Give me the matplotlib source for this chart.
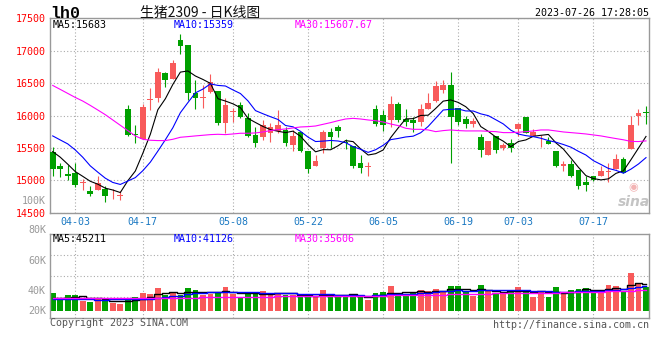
import numpy as np
import pandas as pd
import matplotlib
matplotlib.use('Agg')
import matplotlib.pyplot as plt

plt.rcParams['font.family'] = ['DejaVu Sans Mono', 'Noto Sans CJK SC']

# trading days shown, 03-29 .. 07-26
dates = ['03-29', '03-30', '03-31',
         '04-03', '04-04', '04-06', '04-07', '04-10', '04-11', '04-12', '04-13', '04-14',
         '04-17', '04-18', '04-19', '04-20', '04-21', '04-24', '04-25', '04-26', '04-27', '04-28',
         '05-04', '05-05', '05-08', '05-09', '05-10', '05-11', '05-12', '05-15', '05-16', '05-17',
         '05-18', '05-19', '05-22', '05-23', '05-24', '05-25', '05-26', '05-29', '05-30', '05-31',
         '06-01', '06-02', '06-05', '06-06', '06-07', '06-08', '06-09', '06-12', '06-13', '06-14',
         '06-15', '06-16', '06-19', '06-20', '06-21', '06-26', '06-27', '06-28', '06-29', '06-30',
         '07-03', '07-04', '07-05', '07-06', '07-07', '07-10', '07-11', '07-12', '07-13', '07-14',
         '07-17', '07-18', '07-19', '07-20', '07-21', '07-24', '07-25', '07-26']
tick_dates = ['04-03', '04-17', '05-08', '05-22', '06-05', '06-19', '07-03', '07-17']

open_ = [15444, 15223, 15095, 15110, 14960, 14828, 14843, 14864, 14782, 14765,
         16100, 15715, 15638, 16240, 16274, 16649, 16567, 17161, 17084, 16351,
         16265, 16367, 16377, 15890, 16050, 16161, 15956, 15700, 15674, 15726,
         15762, 15777, 15546, 15751, 15459, 15228, 15495, 15746, 15818, 15575,
         15531, 15274, 15200, 16100, 16008, 15931, 16177, 15941, 15931, 15905,
         16100, 16228, 16392, 16469, 16110, 15946, 15869, 15664, 15392, 15685,
         15495, 15572, 15792, 15972, 15685, 15615, 15613, 15459, 15213, 15254,
         15162, 14967, 15059, 15069, 15133, 15172, 15326, 15485, 15992, 16044]
high = [15510, 15260, 15238, 15264, 15018, 14915, 15069, 14915, 14864, 14828,
        16161, 15854, 16177, 16418, 16726, 16674, 16864, 17254, 17084, 16546,
        16469, 16638, 16377, 16264, 16110, 16213, 16033, 15828, 15931, 15880,
        16085, 15828, 15777, 15751, 15459, 15392, 15777, 15803, 15854, 15638,
        15531, 15392, 15290, 16161, 16085, 16300, 16213, 16100, 15972, 16177,
        16351, 16536, 16546, 16674, 16110, 15992, 15956, 15715, 15613, 15685,
        15582, 15633, 15890, 15972, 15792, 15700, 15674, 15459, 15305, 15315,
        15162, 15059, 15059, 15223, 15274, 15408, 15356, 15992, 16100, 16146]
low = [15074, 15050, 14997, 14895, 14843, 14751, 14843, 14659, 14710, 14690,
       15685, 15572, 15638, 16085, 16213, 16433, 16567, 16946, 16238, 16100,
       16110, 16341, 15854, 15736, 15905, 15956, 15664, 15510, 15623, 15597,
       15736, 15531, 15459, 15433, 15120, 15213, 15418, 15495, 15674, 15480,
       15187, 15120, 15059, 15838, 15767, 15828, 15905, 15838, 15741, 15838,
       16100, 16213, 16341, 15264, 15854, 15803, 15818, 15356, 15392, 15428,
       15469, 15444, 15685, 15726, 15685, 15520, 15562, 15203, 15151, 15044,
       14864, 14828, 14982, 15059, 14967, 15172, 15120, 15485, 15854, 15869]
close = [15172, 15180, 15059, 14930, 14965, 14792, 14956, 14751, 14787, 14770,
         15700, 15705, 16126, 16250, 16664, 16546, 16813, 17074, 16341, 16274,
         16280, 16510, 15890, 16161, 16060, 15982, 15685, 15572, 15854, 15818,
         15854, 15582, 15685, 15459, 15172, 15300, 15751, 15674, 15767, 15570,
         15223, 15187, 15205, 15869, 15854, 16177, 15931, 15905, 15890, 16100,
         16197, 16454, 16469, 15982, 15905, 15869, 15920, 15469, 15613, 15469,
         15546, 15495, 15869, 15736, 15751, 15620, 15562, 15223, 15254, 15059,
         14905, 14920, 14997, 15151, 15140, 15326, 15120, 15854, 16044, 16040]

# MA values at the left edge depend on earlier days
ma5_head = [15443, 15357, 15249, 15135]
ma10_head = [15685, 15623, 15562, 15469, 15356, 15223, 15126, 15033, 14967]
ma30 = [16464, 16403, 16341, 16279, 16223, 16156, 16085, 16013, 15931, 15849,
        15767, 15685, 15633, 15618, 15613, 15613, 15633, 15664, 15674, 15685,
        15695, 15705, 15710, 15705, 15715, 15726, 15726, 15731, 15746, 15767,
        15782, 15792, 15808, 15823, 15828, 15838, 15864, 15890, 15920, 15946,
        15956, 15946, 15931, 15920, 15900, 15869, 15844, 15803, 15787, 15787,
        15777, 15751, 15767, 15777, 15767, 15762, 15762, 15762, 15756, 15751,
        15736, 15736, 15741, 15751, 15762, 15777, 15777, 15762, 15746, 15736,
        15726, 15715, 15700, 15685, 15664, 15644, 15625, 15600, 15598, 15608]
ma_labels = ['15683', '15359', '15607.67']

volume = [30420, 20840, 26480, 26480, 16900, 15210, 20840, 19150, 13520, 11270,
          21410, 22530, 30420, 28170, 38310, 26480, 32110, 25910, 38310, 34930,
          26480, 28170, 32110, 40560, 28170, 22530, 30420, 28170, 33800, 28170,
          30420, 26480, 26480, 24790, 24790, 23660, 34930, 28170, 24790, 24790,
          24790, 24790, 18030, 30420, 32110, 42250, 28170, 26480, 32110, 34930,
          33800, 36620, 32110, 41690, 41690, 32110, 24790, 43380, 34930, 30420,
          28170, 33240, 40560, 34930, 23660, 33240, 23660, 40000, 29290, 34930,
          36620, 38310, 33240, 34930, 43380, 41690, 33240, 64220, 47320, 39430]
vol_ma5_head = [21900, 21900, 22000, 22500]
vol_ma10_head = [19100, 19100, 19100, 19100, 19100, 19100, 18600, 18600, 19100]
vol_ma30 = [20840] * 10 + [21410] * 5 + [21970] * 5 + [22530] * 4 + [23100] * 3 + \
           [23660] * 3 + [24220] * 6 + [24790] * 7 + [25350] * 2 + [25910] * 3 + \
           [26480] * 3 + [27040] * 2 + [27600] * 2 + [28170] * 2 + [28730] * 2 + \
           [29290] * 2 + [29860] * 2 + [30420] * 5 + [30980] * 2 + [31550] * 2 + \
           [32110] * 2 + [32670] * 2 + [33240, 33800, 34360, 35606]
vol_ma_labels = ['45211', '41126', '35606']
vol_axis_labels = ['100K', '80K', '60K', '40K', '20K']

price_ticks = list(range(14500, 17501, 500))


def with_head(values, n, head):
    s = pd.Series(values, dtype=float).rolling(n).mean().to_numpy()
    s[:n - 1] = head
    return s


def fx(px):
    return px / 660.0


def fy(py):
    return 1 - py / 360.0


ma5 = with_head(close, 5, ma5_head)
ma10 = with_head(close, 10, ma10_head)
vma5 = with_head(volume, 5, vol_ma5_head)
vma10 = with_head(volume, 10, vol_ma10_head)

RED = '#f85a5a'
GREEN = '#00a000'
GRID = '#aaaaaa'
SPINE = '#999999'
MA_COLORS = ['black', '#0000ff', '#ff00ff']

x = np.arange(len(dates))
o = np.array(open_, float)
c = np.array(close, float)
up = c >= o
colors = np.where(up, RED, GREEN)
tick_idx = [dates.index(d) for d in tick_dates]

fig = plt.figure(figsize=(6.6, 3.6), dpi=100)
ax = fig.add_axes([fx(50.3), fy(212.7), fx(599), 194.4 / 360])
axv = fig.add_axes([fx(50.3), fy(317.7), fx(599), 83.4 / 360])

# K线
ax.vlines(x, low, high, colors=colors, lw=0.8, zorder=2)
ax.bar(x, np.maximum(np.abs(c - o), 14), bottom=np.minimum(o, c), width=0.76,
       color=colors, lw=0, zorder=3)
ax.plot(x, ma5, color=MA_COLORS[0], lw=0.8, zorder=4)
ax.plot(x, ma10, color=MA_COLORS[1], lw=0.8, zorder=4)
ax.plot(x, ma30, color=MA_COLORS[2], lw=0.8, zorder=4)
ax.set_xlim(-0.32, 79.44)
ax.set_ylim(14500, 17500)
ax.set_yticks(price_ticks)
ax.set_yticklabels([str(t) for t in price_ticks], color='#ff0000', fontsize=7.2)
ax.set_xticks(tick_idx)
ax.set_xticklabels(tick_dates, color='#1a78c2', fontsize=7.2)
ax.tick_params(length=0, pad=3)

# объём
axv.bar(x, volume, width=0.76, color=colors, lw=0, zorder=2)
axv.plot(x, vma5, color=MA_COLORS[0], lw=1.0, drawstyle='steps-mid', zorder=3)
axv.plot(x, vma10, color=MA_COLORS[1], lw=1.0, drawstyle='steps-mid', zorder=3)
axv.plot(x, vol_ma30, color=MA_COLORS[2], lw=1.0, drawstyle='steps-mid', zorder=3)
vpp = 1690  # volume per pixel
vlo, vhi = -7 * vpp, 76.4 * vpp
axv.set_xlim(-0.32, 79.44)
axv.set_ylim(vlo, vhi)
axv.set_yticks([vlo + f * (vhi - vlo) for f in (0.25, 0.5, 0.75)])
axv.set_yticklabels([])
axv.set_xticks(tick_idx)
axv.set_xticklabels([])
axv.tick_params(length=0)

for a in (ax, axv):
    a.grid(True, color=GRID, lw=0.8, ls=(0, (1, 2)))
    a.set_axisbelow(True)
    for sp in a.spines.values():
        sp.set_color(SPINE)
        sp.set_linewidth(1.0)

# volume axis labels (Sina places them oddly)
for lab, py in zip(vol_axis_labels, [201, 230.5, 260.5, 290.5, 310.5]):
    fig.text(fx(46), fy(py), lab, ha='right', va='center', color='#999999', fontsize=7.2)

# MA legends
for lab, val, col, px in zip(['MA5', 'MA10', 'MA30'], ma_labels, MA_COLORS, [53, 174, 295]):
    fig.text(fx(px), fy(24.5), lab + ':' + val, color=col, fontsize=7.2, va='center')
for lab, val, col, px in zip(['MA5', 'MA10', 'MA30'], vol_ma_labels, MA_COLORS, [53, 174, 295]):
    fig.text(fx(px), fy(238.5), lab + ':' + val, color=col, fontsize=7.2, va='center')

# header
fig.text(fx(50), fy(13), 'lh0', fontsize=12, fontweight='bold', va='center',
         family=['Liberation Mono', 'DejaVu Sans Mono'])
fig.text(fx(200), fy(12.5), '生猪2309 - 日K线图', fontsize=10, ha='center', va='center',
         family=['Noto Sans CJK SC', 'DejaVu Sans'], color='#111111')
fig.text(fx(649), fy(13), '2023-07-26 17:28:05', fontsize=7.2, ha='right', va='center')

# footer
fig.text(fx(50), fy(323.5), 'Copyright 2023 SINA.COM', fontsize=7.2, va='center', color='#555555')
fig.text(fx(649), fy(324.5), 'http://finance.sina.com.cn', fontsize=7.2, ha='right',
         va='center', color='#555555')

# sina watermark
fig.text(fx(633), fy(187.5), '\u25c9', fontsize=8, ha='center', va='center', color='#f3b4b4',
         family='DejaVu Sans')
fig.text(fx(634), fy(201.5), 'sina', fontsize=10, ha='center', va='center', color='#c4c4c4',
         family='DejaVu Sans', fontweight='bold', fontstyle='italic')

fig.savefig('out.png', dpi=100)
